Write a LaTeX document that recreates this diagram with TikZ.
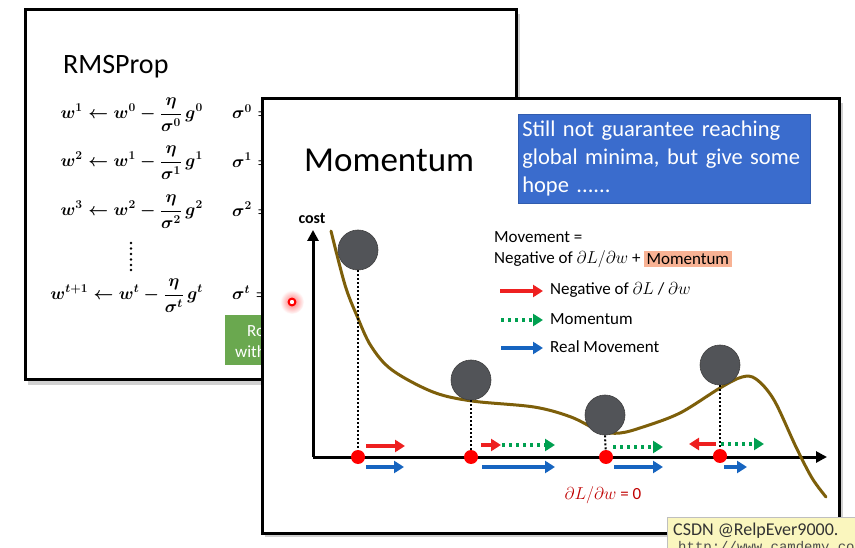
\documentclass[tikz,border=0pt]{standalone}
\usepackage{fontspec}
\setmainfont{Carlito}
\newfontfamily\monofont{Liberation Mono}
\usetikzlibrary{arrows.meta}
\definecolor{boxblue}{RGB}{58,108,205}
\definecolor{salmon}{RGB}{248,178,148}
\definecolor{arrred}{RGB}{238,32,32}
\definecolor{arrblue}{RGB}{22,100,192}
\definecolor{arrgreen}{RGB}{0,160,80}
\definecolor{curvec}{RGB}{125,95,10}
\definecolor{ballc}{RGB}{82,84,88}
\definecolor{darkred}{RGB}{192,0,0}
\definecolor{greenbox}{RGB}{106,168,79}
\definecolor{wmark}{RGB}{250,246,190}
\tikzset{
  slide/.style={line width=3pt, fill=white},
  shadowbox/.style={fill=black!18},
  txt/.style={inner sep=0pt, font=\fontsize{17}{20}\selectfont},
  eqn/.style={inner sep=0pt, anchor=east, font=\fontsize{18}{21}\selectfont\boldmath},
  sig/.style={inner sep=0pt, anchor=west, font=\fontsize{18}{21}\selectfont\boldmath},
  ball/.style={circle, fill=ballc, draw=black!75, line width=0.6pt, minimum size=40pt, inner sep=0pt},
  rdot/.style={circle, fill=red, minimum size=14pt, inner sep=0pt},
  drop/.style={dotted, line width=2pt, black},
  tipA/.style={-{Triangle[length=10pt,width=12pt]}},
  redarr/.style={tipA, line width=3.5pt, arrred},
  bluearr/.style={tipA, line width=3.5pt, arrblue},
  greenarr/.style={-{Triangle[length=10pt,width=12pt]}, line width=3.5pt, arrgreen, dash pattern=on 3pt off 4pt},
  axis/.style={line width=3pt, -{Triangle[length=11pt,width=11pt]}}
}
\begin{document}
\begin{tikzpicture}[x=1pt,y=-1pt]
\useasboundingbox (0,0) rectangle (855,548);
\fill[white] (0,0) rectangle (855,548);

% ---------- back slide (RMSProp)
\fill[shadowbox] (28,14) rectangle (520,385);
\draw[slide] (25,10) rectangle (516,380);
\node[anchor=west, inner sep=0pt, font=\fontsize{28}{32}\selectfont] (rms) at (63,67) {RMSProp};
\node[eqn] (e1) at (203,115) {$\displaystyle w^1 \leftarrow w^0 - \frac{\eta}{\sigma^0}\, g^0$};
\node[eqn] (e2) at (203,163) {$\displaystyle w^2 \leftarrow w^1 - \frac{\eta}{\sigma^1}\, g^1$};
\node[eqn] (e3) at (203,212) {$\displaystyle w^3 \leftarrow w^2 - \frac{\eta}{\sigma^2}\, g^2$};
\node[eqn] (e4) at (203,296) {$\displaystyle w^{t+1} \leftarrow w^t - \frac{\eta}{\sigma^t}\, g^t$};
\foreach \yy in {243,248.5,254,259.5,265,270}{\fill (131,\yy) circle (1.3);}
\node[sig] (s1) at (232,112) {$\sigma^0 =$};
\node[sig] (s2) at (232,160) {$\sigma^1 =$};
\node[sig] (s3) at (232,209) {$\sigma^2 =$};
\node[sig] (s4) at (232,293) {$\sigma^t =$};
\fill[greenbox] (225,315) rectangle (400,365);
\node[txt, anchor=west, text=white] (g1) at (247,331) {Root};
\node[txt, anchor=west, text=white] (g2) at (235,352) {with};

% ---------- front slide (Momentum)
\fill[shadowbox] (265,103) rectangle (843,537);
\draw[slide] (262,99) rectangle (839,533);
\node[anchor=west, inner sep=0pt, font=\fontsize{35}{40}\selectfont] (title) at (304,160) {Momentum};
\node[fill=boxblue, draw=boxblue!85!black, line width=0.6pt, anchor=north west, text=white,
      align=left, text width=284pt, minimum height=89pt, inner sep=4pt,
      font=\fontsize{22.5}{28}\selectfont] (hint) at (518,114)
  {Still not guarantee reaching\\global minima, but give some\\hope ......};

% cursor mark
\shade[inner color=red!55, outer color=white] (292,302) circle (12);
\draw[red, line width=2pt, fill=white] (292,302) circle (3.4);

% axes
\coordinate (O) at (313,457);
\coordinate (ytop) at (313,230);
\coordinate (xend) at (827,457);
\node[inner sep=0pt, font=\fontsize{16}{18}\selectfont\bfseries] (cost) at (312,219) {cost};
\draw[axis] (O) -- (ytop);
\draw[axis] (O) -- (xend);

% curve
\draw[curvec, line width=3pt, line cap=round] plot[smooth, tension=0.55] coordinates {
 (331,231) (345,285) (357,316) (371,346) (392,370) (433,392) (472,401) (534,407)
 (571,417) (600,431) (620,433) (643,427) (680,413) (720,388) (742,377) (756,379)
 (774,400) (796,447) (812,478) (826,497)};

% balls, drops, dots
\node[ball] (b1) at (358,250) {};
\node[ball] (b2) at (471,380) {};
\node[ball] (b3) at (605,415) {};
\node[ball] (b4) at (720,365) {};
\node[rdot] (d1) at (358,457) {};
\node[rdot] (d2) at (471,457) {};
\node[rdot] (d3) at (606,457) {};
\node[rdot] (d4) at (720,456) {};
\draw[drop] (b1.south) -- (d1);
\draw[drop] (b2.south) -- (d2);
\draw[drop] (b3.south) -- (d3);
\draw[drop] (b4.south) -- (d4);

% step arrows
\draw[redarr] (366,446) -- (405,446);
\draw[bluearr] (366,467) -- (404,467);
\draw[redarr] (481,445) -- (501,445);
\draw[greenarr] (502,445) -- (555,445);
\draw[bluearr] (482,467) -- (555,467);
\draw[greenarr] (613,447) -- (663,447);
\draw[bluearr] (614,467) -- (663,467);
\draw[redarr] (716,444) -- (689,444);
\draw[greenarr] (721,444) -- (764,444);
\draw[bluearr] (724,467) -- (747,467);

% formula and legend
\node[txt, anchor=west] (mv) at (494,237) {Movement =};
\node[txt, anchor=west] (neg) at (494,259) {Negative of $\partial L/\partial w$ +};
\node[txt, anchor=west, fill=salmon, inner sep=2.5pt] (mom) at ([xshift=3pt]neg.east) {Momentum};
\draw[redarr] (500,291) -- (543,291);
\node[txt, anchor=west] (l1) at (550,290) {Negative of $\partial L$ / $\partial w$};
\draw[greenarr] (501,320) -- (543,320);
\node[txt, anchor=west] (l2) at (550,319) {Momentum};
\draw[bluearr] (501,348) -- (543,348);
\node[txt, anchor=west] (l3) at (550,347) {Real Movement};
\node[txt, text=darkred] (zero) at (603,495) {$\partial L/\partial w$ = 0};

% watermark
\fill[wmark] (667,517) rectangle (860,560);
\draw[black!25, line width=0.6pt] (667,560) -- (667,517) -- (860,517);
\node[inner sep=0pt, anchor=west, text=black!80, font=\fontsize{18}{20}\selectfont] (wm1) at (673,531) {CSDN @RelpEver9000.};
\node[inner sep=0pt, anchor=west, text=black!70, font=\monofont\fontsize{14}{16}\selectfont] (wm2) at (678,548) {http://www.camdemy.com};
\end{tikzpicture}
\end{document}
